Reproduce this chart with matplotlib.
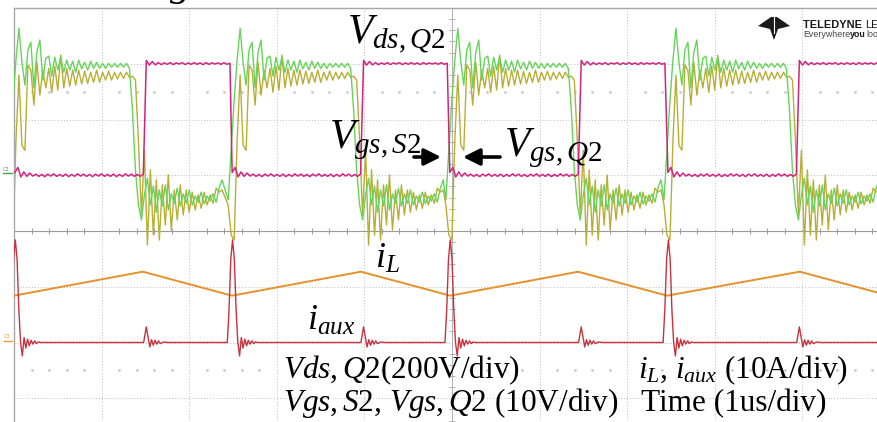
import numpy as np
import matplotlib
matplotlib.use("Agg")
import matplotlib.pyplot as plt
from matplotlib.patches import Polygon

# ------------------------------------------------------------------ data
# scope sample spacing used when reading the traces (us)
DT_US = 0.0341

# Vds,Q2 over one switching period (V), starting at its turn-off edge
VDS_PERIOD = [10, 28, -6, 12, -4, 8, -3,
              4, -4, 3, -5, 4, -3, 5, -4, 3, -4,
              4, -5, 3, -4, 5, -3, 4, -4, 3, -5,
              4, -3, 5, -4, 3, -4, 4, -5, 3, -4,
              5, -3, 4, -4, 3, -4, 4,
              412, 395, 408, 396, 404, 397,
              403, 398, 404, 397, 403, 399, 404, 397, 403, 398,
              404, 398, 403, 397, 404, 398, 403, 399, 403, 398,
              404, 398, 402]
VDS_START_US = [0.01, 2.49, 4.975, 7.465]

# gate voltages over one period (V), starting at the S2 gate rising edge
VGS_S2_PERIOD = [-5.0, 3.9, 12.9, 20.1, 25.8, 19.7, 15.6, 21.9, 23.3, 15.1,
                 21.5, 23.7, 16.5, 20.4, 20.8, 17.2, 20.6, 18.3, 20.6, 17.9,
                 20.1, 18.3, 19.9, 17.9, 20.1, 18.5, 19.7, 18.3, 19.9, 18.6,
                 19.7, 18.6, 19.5, 18.6, 19.5, 18.8, 19.5, 18.8, 19.5, 18.8,
                 19.5, 18.6, 11.1, 0.4, -5.9, -8.6, -4.1, -1.1, -5.9, -2.5,
                 -7.2, -3.2, -6.1, -2.3, -6.8, -3.9, -5.6, -2.9, -6.1, -3.9,
                 -5.6, -3.2, -5.9, -4.3, -5.4, -3.6, -5.7, -4.3, -5.2, -3.9,
                 -5.4, -2.9, -1.4]
VGS_Q2_PERIOD = [-5.9, -11.3, -12.2, 5.7, 17.4, 4.8, 3.9, 19.2, 18.3, 12.0,
                 19.7, 13.8, 18.3, 15.1, 18.6, 14.3, 19.0, 14.7, 21.0, 15.1,
                 18.6, 15.4, 18.3, 15.6, 18.3, 15.8, 18.1, 15.9, 17.9, 16.1,
                 18.3, 16.1, 17.9, 16.5, 18.1, 16.5, 17.9, 16.7, 17.9, 16.8,
                 17.9, 17.0, 17.2, 16.5, 5.7, -7.7, 3.9, -13.1, 0.4, -11.3,
                 -1.4, -12.2, -2.3, -9.5, -0.5, -10.4, -3.2, -8.6, -2.3, -7.7,
                 -3.2, -7.2, -3.6, -6.8, -4.1, -6.5, -3.6, -5.9, -4.1, -5.6,
                 -2.9, -3.6, -3.2]
VGS_START_US = [-0.08, 2.445, 4.93, 7.42]

# inductor current (A)
IL_T_US = [0.0, 1.47, 2.49, 3.96, 4.98, 6.44, 7.455, 8.97, 9.99]
IL_A = [8.4, 12.7, 8.4, 12.7, 8.4, 12.7, 8.4, 12.7, 8.4]

# auxiliary current (A): big pulse at Q2 turn-off, small bump at turn-on
IAUX_PULSE_DT = [-0.055, -0.035, -0.015, 0.005, 0.025, 0.045, 0.065, 0.085,
                 0.105, 0.125, 0.145, 0.165, 0.185, 0.205, 0.225, 0.245, 0.265, 0.29]
IAUX_PULSE_A = [0, 6, 15, 18.4, 15, 6, 0, -2.4,
                0.9, -1.0, 0.6, -0.6, 0.4, -0.3, 0.3, -0.2, 0.1, 0]
IAUX_BUMP_DT = [-0.03, 0.0, 0.02, 0.04, 0.06, 0.08, 0.10, 0.12, 0.14, 0.16, 0.20, 0.24]
IAUX_BUMP_A = [0, 2.8, 1.0, -0.8, 0.5, -0.5, 0.4, -0.3, 0.3, -0.2, 0.1, 0]
IAUX_PULSE_AT = [0.01, 2.49, 4.975, 7.465]
IAUX_BUMP_AT = [1.51, 3.99, 6.475, 8.965]

# scope channel scaling: (zero position in div, units per div)
VDS_SCALE = (1.0, 200.0)
VGS_SCALE = (1.057, 10.0)
I_SCALE = (-2.0, 10.0)

# ------------------------------------------------------------------ helpers
W, H = 878, 422


def fx(x):
    return x / W


def fy(y):
    return 1 - y / H


def tile(period, starts):
    ts, vs = [], []
    for s in starts:
        ts.append(s + np.arange(len(period)) * DT_US)
        vs.append(np.asarray(period, float))
    return np.concatenate(ts), np.concatenate(vs)


def events(dts, vals, ats):
    ts, vs = [], []
    for a in ats:
        ts.extend(a + np.asarray(dts))
        vs.extend(vals)
    return np.asarray(ts), np.asarray(vs)


def to_div(v, scale):
    return scale[0] + np.asarray(v) / scale[1]


plt.rcParams["mathtext.fontset"] = "custom"
plt.rcParams["mathtext.rm"] = "Liberation Serif"
plt.rcParams["mathtext.it"] = "Liberation Serif:italic"
plt.rcParams["mathtext.bf"] = "Liberation Serif:bold"

fig = plt.figure(figsize=(W / 100, H / 100), dpi=100, facecolor="white")
ax = fig.add_axes([14 / W, 1 - 454 / H, 876 / W, 446 / H])
ax.set_xlim(0, 10)
ax.set_ylim(-4, 4)
ax.set_xticks([])
ax.set_yticks([])
for side in ("right", "bottom"):
    ax.spines[side].set_visible(False)
for side in ("left", "top"):
    ax.spines[side].set_color("#A8A8A8")
    ax.spines[side].set_linewidth(1.0)

# grid
gcol = "#BDBDBD"
for i in range(1, 10):
    if i != 5:
        ax.axvline(i, color=gcol, lw=0.7, ls=(0, (1, 2)), zorder=0)
for j in range(-3, 4):
    if j != 0:
        ax.axhline(j, color=gcol, lw=0.7, ls=(0, (1, 2)), zorder=0)
ax.axhline(0, color="#9A9A9A", lw=0.8, zorder=0)
ax.axvline(5, color="#B0B0B0", lw=0.7, zorder=0)
minor_x = [k * 0.2 for k in range(1, 50) if k % 5]
ax.plot(minor_x, [0] * len(minor_x), ls="none", marker="|", ms=4, mew=0.7,
        color="#9A9A9A", zorder=0)
minor_y = [-4 + k * 0.2 for k in range(1, 40) if k % 5]
ax.plot([5] * len(minor_y), minor_y, ls="none", marker="_", ms=4, mew=0.7,
        color="#B0B0B0", zorder=0)
for yrow in (2.5, -2.5):
    ax.plot(minor_x, [yrow] * len(minor_x), ls="none", marker="s", ms=0.8,
            color="#C4C4C4", zorder=0)

# traces
t_q2, v_q2 = tile(VGS_Q2_PERIOD, VGS_START_US)
t_s2, v_s2 = tile(VGS_S2_PERIOD, VGS_START_US)
t_ds, v_ds = tile(VDS_PERIOD, VDS_START_US)
ax.plot(t_q2, to_div(v_q2, VGS_SCALE), color="#B9AE35", lw=1.0, zorder=2)
ax.plot(t_s2, to_div(v_s2, VGS_SCALE), color="#66D45A", lw=1.0, zorder=3)
ax.plot(t_ds, to_div(v_ds, VDS_SCALE), color="#D2237F", lw=1.1, zorder=4)
ax.plot(IL_T_US, to_div(IL_A, I_SCALE), color="#E8912C", lw=1.4, zorder=3)

tp, ip = events(IAUX_PULSE_DT, IAUX_PULSE_A, IAUX_PULSE_AT)
tb, ib = events(IAUX_BUMP_DT, IAUX_BUMP_A, IAUX_BUMP_AT)
order = np.argsort(np.concatenate([tp, tb]), kind="stable")
t_aux = np.concatenate([[-0.2], np.concatenate([tp, tb])[order], [10.2]])
i_aux = np.concatenate([[0], np.concatenate([ip, ib])[order], [0]])
ax.plot(t_aux, to_div(i_aux, I_SCALE), color="#C8323E", lw=1.0, zorder=5)

# channel tags
fig.text(fx(3), fy(171), "C2", fontsize=3.5, color="#3DAA3D", va="baseline")
fig.add_artist(plt.Line2D([fx(3), fx(12)], [fy(173), fy(173)], color="#3DAA3D", lw=1))
fig.text(fx(4), fy(338), "C3", fontsize=3.5, color="#E0A030", va="baseline")
fig.add_artist(plt.Line2D([fx(4), fx(12)], [fy(341), fy(341)], color="#E0A030", lw=1))

# annotations
serif = "Liberation Serif"
fig.text(fx(347), fy(44), r"$V_{\mathit{ds,Q2}}$", fontsize=30, family=serif,
         va="baseline")
fig.text(fx(329), fy(148), r"$V_{\mathit{gs,S2}}$", fontsize=30, family=serif,
         va="baseline")
fig.text(fx(504), fy(156), r"$V_{\mathit{gs,Q2}}$", fontsize=30, family=serif,
         va="baseline")
fig.text(fx(375), fy(268), r"$i_L$", fontsize=26, family=serif, va="baseline")
fig.text(fx(307), fy(330), r"$i_{aux}$", fontsize=26, family=serif, va="baseline")

arrow = dict(arrowstyle="-|>,head_length=1.0,head_width=0.5", lw=2.6, color="black",
             shrinkA=0, shrinkB=0)
ax.annotate("", xy=(fx(441), fy(157)), xytext=(fx(414), fy(157)),
            xycoords="figure fraction", textcoords="figure fraction", arrowprops=arrow)
ax.annotate("", xy=(fx(463), fy(157)), xytext=(fx(500), fy(157)),
            xycoords="figure fraction", textcoords="figure fraction", arrowprops=arrow)

fs = 22.5
fig.text(fx(283), fy(378), r"$\mathit{Vds,Q}$2(200V/div)", fontsize=fs, family=serif,
         va="baseline")
fig.text(fx(283), fy(411), r"$\mathit{Vgs,S}$2, $\mathit{Vgs,Q}$2 (10V/div)",
         fontsize=fs, family=serif, va="baseline")
fig.text(fx(638), fy(378), r"$i_L$, $i_{aux}$ (10A/div)", fontsize=fs, family=serif,
         va="baseline")
fig.text(fx(641), fy(411), "Time (1us/div)", fontsize=fs, family=serif, va="baseline")

# cut-off glyph at the very top
fig.text(fx(170), fy(-5), "g", fontsize=30, family=serif, style="italic", va="baseline")

# Teledyne LeCroy logo
logo = [(758, 26), (771, 17), (777, 17), (790, 26), (778, 29), (774, 40), (770, 29)]
fig.add_artist(Polygon([(fx(x), fy(y)) for x, y in logo], closed=True,
                       transform=fig.transFigure, facecolor="#1A1A1A", edgecolor="none"))
fig.add_artist(plt.Line2D([fx(774), fx(774)], [fy(17), fy(33)], color="white", lw=0.8))

renderer = fig.canvas.get_renderer()


def chain(x0, y0, parts, size):
    x = x0
    for s, weight, col in parts:
        t = fig.text(fx(x), fy(y0), s, fontsize=size, family="Liberation Sans",
                     weight=weight, color=col, va="baseline")
        x += t.get_window_extent(renderer).width


chain(803, 28, [("TELEDYNE ", "bold", "#1A1A1A"), ("LECROY", "normal", "#1A1A1A")], 7.9)
chain(803, 37, [("Everywhere", "normal", "#444444"), ("you", "bold", "#1A1A1A"),
                ("look", "normal", "#444444")], 6.4)

fig.savefig("out.png", dpi=100, facecolor="white")
